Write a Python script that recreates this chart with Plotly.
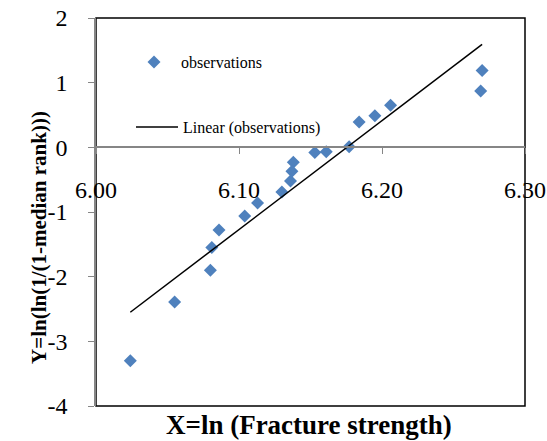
import numpy as np
import plotly.graph_objects as go

x_obs = [6.270, 6.269, 6.206, 6.195, 6.184, 6.177, 6.161, 6.153, 6.138, 6.137,
         6.136, 6.130, 6.113, 6.104, 6.086, 6.081, 6.080, 6.055, 6.024]
y_obs = [1.19, 0.87, 0.65, 0.49, 0.39, 0.01, -0.07, -0.08, -0.23, -0.37,
         -0.52, -0.69, -0.86, -1.06, -1.28, -1.55, -1.90, -2.39, -3.30]
x_ticks = [6.00, 6.10, 6.20, 6.30]
x_tick_labels = ["6.00", "6.10", "6.20", "6.30"]
y_ticks = [-4, -3, -2, -1, 0, 1, 2]
y_tick_labels = ["-4", "-3", "-2", "-1", "0", "1", "2"]

slope, intercept = np.polyfit(x_obs, y_obs, 1)
x_fit = [min(x_obs), max(x_obs)]
y_fit = [slope * v + intercept for v in x_fit]

FONT = "Liberation Serif, Times New Roman, serif"
fig = go.Figure()
fig.add_trace(go.Scatter(x=x_obs, y=y_obs, mode="markers", name="observations",
                         marker=dict(symbol="diamond", size=10, color="#4F81BD"),
                         legend="legend", showlegend=True))
fig.add_trace(go.Scatter(x=x_fit, y=y_fit, mode="lines", name="Linear (observations)",
                         line=dict(color="black", width=1.5),
                         legend="legend2", showlegend=True))

fig.update_layout(
    width=547, height=441,
    margin=dict(l=96, r=22, t=18, b=35),
    paper_bgcolor="white", plot_bgcolor="white",
    showlegend=True,
    font=dict(family=FONT, color="black", size=20),
    xaxis=dict(range=[6.0, 6.3], anchor="free", position=4/6, automargin=False,
               tickvals=x_ticks, ticktext=x_tick_labels, ticks="outside", ticklen=6,
               tickcolor="#868686", showline=True, linecolor="#868686", linewidth=1.5,
               showgrid=False, zeroline=False, ticklabelstandoff=15,
               tickfont=dict(family=FONT, size=24, color="black")),
    yaxis=dict(range=[-4, 2], tickvals=y_ticks, ticktext=y_tick_labels, automargin=False,
               ticks="outside", ticklen=6,
               tickcolor="#868686", showline=True, linecolor="#868686", linewidth=1.5,
               showgrid=False, zeroline=False, ticklabelstandoff=16,
               tickfont=dict(family=FONT, size=24, color="black")),
    legend=dict(x=(127 - 96) / 429, y=1 - (62 - 18) / 388, xanchor="left", yanchor="middle",
                bgcolor="rgba(0,0,0,0)", font=dict(family=FONT, size=16, color="black"),
                itemwidth=44),
    legend2=dict(x=(131 - 96) / 429, y=1 - (127 - 18) / 388, xanchor="left", yanchor="middle",
                 bgcolor="rgba(0,0,0,0)", font=dict(family=FONT, size=16, color="black"),
                 itemwidth=42),
    shapes=[dict(type="rect", xref="paper", yref="paper", x0=0, x1=1, y0=0, y1=1,
                 line=dict(color="black", width=1.5), layer="below")],
    annotations=[
        dict(text="<b>X=ln (Fracture strength)</b>", xref="paper", yref="paper",
             x=(309 - 96) / 429, y=1 - (425 - 18) / 388, xanchor="center", yanchor="middle",
             showarrow=False, font=dict(family=FONT, size=27, color="black")),
        dict(text="<b>Y=ln(ln(1/(1-median rank)))</b>", xref="paper", yref="paper",
             x=(39 - 96) / 429, y=1 - (238 - 18) / 388, xanchor="center", yanchor="middle",
             textangle=-90, showarrow=False, font=dict(family=FONT, size=21, color="black")),
    ],
)
fig.write_html("out.html")
